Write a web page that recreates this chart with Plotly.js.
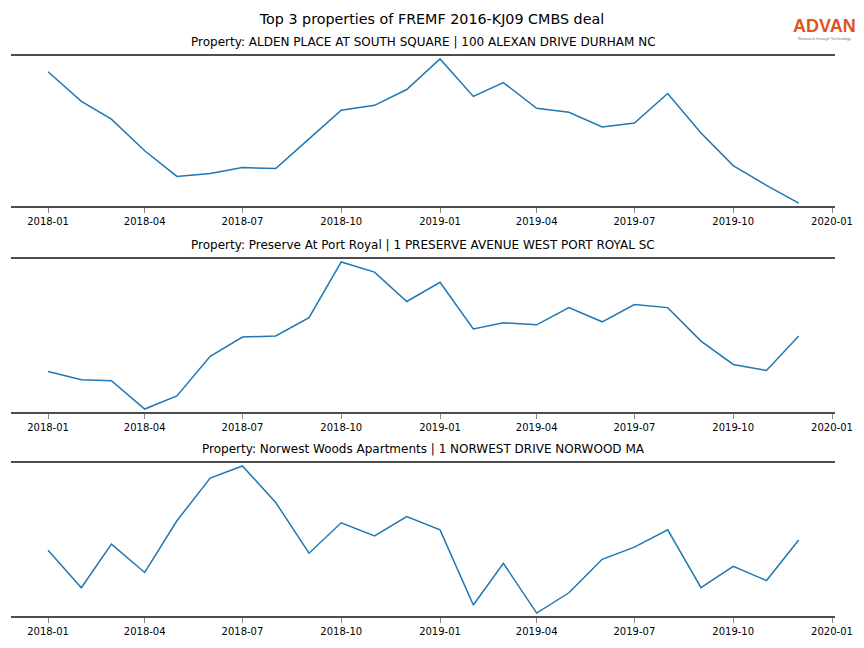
<!DOCTYPE html>
<html>
<head>
<meta charset="utf-8">
<script src="https://cdn.plot.ly/plotly-3.0.1.min.js"></script>
<style>
html,body{margin:0;padding:0;background:#fff;}
#chart{width:864px;height:648px;}
</style>
</head>
<body>
<div id="chart"></div>
<script>
// Monthly dates (2018-01 .. 2019-12)
const months = ["2018-01-01","2018-02-01","2018-03-01","2018-04-01","2018-05-01","2018-06-01",
  "2018-07-01","2018-08-01","2018-09-01","2018-10-01","2018-11-01","2018-12-01",
  "2019-01-01","2019-02-01","2019-03-01","2019-04-01","2019-05-01","2019-06-01",
  "2019-07-01","2019-08-01","2019-09-01","2019-10-01","2019-11-01","2019-12-01"];

const propertyNames = [
  "Property: ALDEN PLACE AT SOUTH SQUARE | 100 ALEXAN DRIVE DURHAM NC",
  "Property: Preserve At Port Royal | 1 PRESERVE AVENUE WEST PORT ROYAL SC",
  "Property: Norwest Woods Apartments | 1 NORWEST DRIVE NORWOOD MA"
];

// Values (relative activity, no y axis shown)
const aldenPlace = [134,104,86,54,28,31,37,36,66,95,100,116,147,109,123,97,93,78,82,112,72,39,19,1];
const preservePortRoyal = [41,33,32,4,17,56,75,76,94,149,139,110,129,83,89,87,104,90,107,104,71,48,42,76];
const norwestWoods = [66,29,72,44,95,137,149,113,63,93,80,99,86,12,53,4,24,57,69,86,29,50,36,76];

const tickVals = ["2018-01-01","2018-04-01","2018-07-01","2018-10-01","2019-01-01","2019-04-01","2019-07-01","2019-10-01","2020-01-01"];
const tickText = ["2018-01","2018-04","2018-07","2018-10","2019-01","2019-04","2019-07","2019-10","2020-01"];

const series = [aldenPlace, preservePortRoyal, norwestWoods];
const W = 864, H = 648;
// pixel boxes of each panel [top, bottom]
const boxes = [[56,206],[259,412],[463,616]];
const xLeft = 11, xRight = 835;

const data = [];
const layout = {
  width: W, height: H,
  margin: {l:0, r:0, t:0, b:0},
  paper_bgcolor: "#ffffff",
  plot_bgcolor: "#ffffff",
  showlegend: false,
  font: {family: "DejaVu Sans, sans-serif", color: "#000", size: 10},
  title: {text: "Top 3 properties of FREMF 2016-KJ09 CMBS deal",
    x: 0.5, xanchor: "center", y: 1 - 19/H, yanchor: "middle",
    font: {family: "DejaVu Sans, sans-serif", size: 14.3, color: "#000"}},
  annotations: [],
};

series.forEach((vals, i) => {
  const n = i + 1;
  const xa = "xaxis" + (n === 1 ? "" : n);
  const ya = "yaxis" + (n === 1 ? "" : n);
  data.push({
    x: months, y: vals, type: "scatter", mode: "lines",
    line: {color: "#1f77b4", width: 1.5},
    xaxis: "x" + (n === 1 ? "" : n), yaxis: "y" + (n === 1 ? "" : n),
    hoverinfo: "x+y"
  });
  const mn = Math.min(...vals), mx = Math.max(...vals);
  const pad = (mx - mn) * 0.02;
  const [top, bot] = boxes[i];
  layout[xa] = {
    domain: [xLeft / W, xRight / W],
    anchor: "y" + (n === 1 ? "" : n),
    type: "date",
    range: ["2017-11-27 12:00", "2020-01-03 19:00"],
    tickvals: tickVals, ticktext: tickText,
    ticks: "outside", ticklen: 5, tickwidth: 1, tickcolor: "#888",
    showline: true, mirror: true, linecolor: "#4d4d4d", linewidth: 2,
    showgrid: false, zeroline: false,
    tickfont: {family: "DejaVu Sans, sans-serif", size: 10, color: "#000"}
  };
  layout[ya] = {
    domain: [1 - bot / H, 1 - top / H],
    anchor: "x" + (n === 1 ? "" : n),
    range: [mn - pad, mx + pad],
    showgrid: false, zeroline: false, showticklabels: false, ticks: "",
    showline: false
  };
  layout.annotations.push({
    text: propertyNames[i], xref: "paper", yref: "paper",
    x: 423 / W, y: 1 - (top - 14) / H, xanchor: "center", yanchor: "middle",
    showarrow: false, font: {family: "DejaVu Sans, sans-serif", size: 12, color: "#000"}
  });
});

// Logo
layout.annotations.push({
  text: "ADVAN", xref: "paper", yref: "paper",
  x: 824 / W, y: 1 - 26 / H, xanchor: "center", yanchor: "middle",
  showarrow: false, font: {family: "Liberation Sans, Arial, sans-serif", size: 18, weight: 600, color: "#e2531f"}
});
layout.annotations.push({
  text: "Research through Technology", xref: "paper", yref: "paper",
  x: 824 / W, y: 1 - 38.5 / H, xanchor: "center", yanchor: "middle",
  showarrow: false, font: {family: "Liberation Sans, Arial, sans-serif", size: 4, color: "#777"}
});

Plotly.newPlot("chart", data, layout, {displayModeBar: false, staticPlot: true});
</script>
</body>
</html>
